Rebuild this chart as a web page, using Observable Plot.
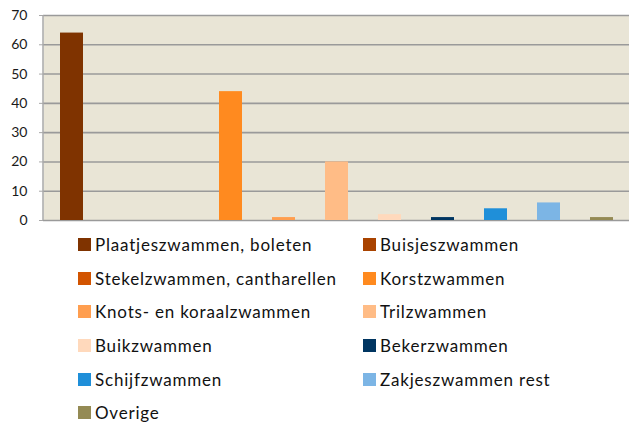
<!DOCTYPE html>
<html>
<head>
<meta charset="utf-8">
<script src="https://cdn.jsdelivr.net/npm/d3@7"></script>
<script src="https://cdn.jsdelivr.net/npm/@observablehq/plot@0.6"></script>
<style>
  html, body { margin: 0; padding: 0; background: #fff; }
  #chart { position: relative; width: 629px; height: 427px; font-family: Lato, sans-serif; }
  #chart svg { position: absolute; left: 0; top: 0; }
  #legend { position: absolute; left: 0; top: 228px; width: 629px; }
  .row { position: relative; height: 33.6px; }
  .item { position: absolute; top: 0; height: 33.6px; display: flex; align-items: center; font-size: 17px; letter-spacing: 0.8px; color: #111; white-space: nowrap; }
  .sw { width: 13px; height: 13px; margin-right: 4px; flex: none; }
</style>
</head>
<body>
<div id="chart"></div>
<script>
const categories = ["Plaatjeszwammen, boleten", "Buisjeszwammen", "Stekelzwammen, cantharellen", "Korstzwammen", "Knots- en koraalzwammen", "Trilzwammen", "Buikzwammen", "Bekerzwammen", "Schijfzwammen", "Zakjeszwammen rest", "Overige"];
const values = [64, 0, 0, 44, 1, 20, 2, 1, 4, 6, 1];
const colors = ["#7F3300", "#A94300", "#D25400", "#FF8A1F", "#FF9E4F", "#FFBC86", "#FFD9BC", "#003561", "#1F8FD9", "#7CB5E5", "#948A54"];
const yTicks = [0, 10, 20, 30, 40, 50, 60, 70];

const data = categories.map((c, i) => ({category: c, value: values[i]}));

const plot = Plot.plot({
  width: 629,
  height: 232,
  marginLeft: 43,
  marginRight: 0,
  marginTop: 15,
  marginBottom: 12,
  style: {fontFamily: "Lato, sans-serif", fontSize: "14px", color: "#222", background: "transparent"},
  x: {domain: categories, paddingInner: 0.567, paddingOuter: 0.2835, axis: null},
  y: {domain: [0, 70], ticks: yTicks, axis: null, label: null},
  color: {domain: categories, range: colors},
  marks: [
    Plot.frame({fill: "#E9E5D6", stroke: "none"}),
    Plot.gridY(yTicks, {stroke: "#9a9a9a", strokeOpacity: 1, strokeWidth: 1.6}),
    Plot.axisY(yTicks, {tickSize: 4, tickPadding: 12, stroke: "#a8a8a8", fill: "#1a1a1a", fontSize: 14, label: null}),
    Plot.barY(data, {x: "category", y: "value", fill: "category"})
  ]
});
document.getElementById("chart").appendChild(plot);

// left axis line
d3.select(plot).append("line").attr("x1", 43).attr("x2", 43).attr("y1", 15).attr("y2", 220)
  .attr("stroke", "#a8a8a8").attr("stroke-width", 1.5);

const legend = document.createElement("div");
legend.id = "legend";
for (let r = 0; r < Math.ceil(categories.length / 2); r++) {
  const row = document.createElement("div");
  row.className = "row";
  for (let c = 0; c < 2; c++) {
    const i = r * 2 + c;
    if (i >= categories.length) continue;
    const item = document.createElement("div");
    item.className = "item";
    item.style.left = (c === 0 ? 78 : 363) + "px";
    const sw = document.createElement("span");
    sw.className = "sw";
    sw.style.background = colors[i];
    item.appendChild(sw);
    item.appendChild(document.createTextNode(categories[i]));
    row.appendChild(item);
  }
  legend.appendChild(row);
}
document.getElementById("chart").appendChild(legend);
</script>
</body>
</html>
